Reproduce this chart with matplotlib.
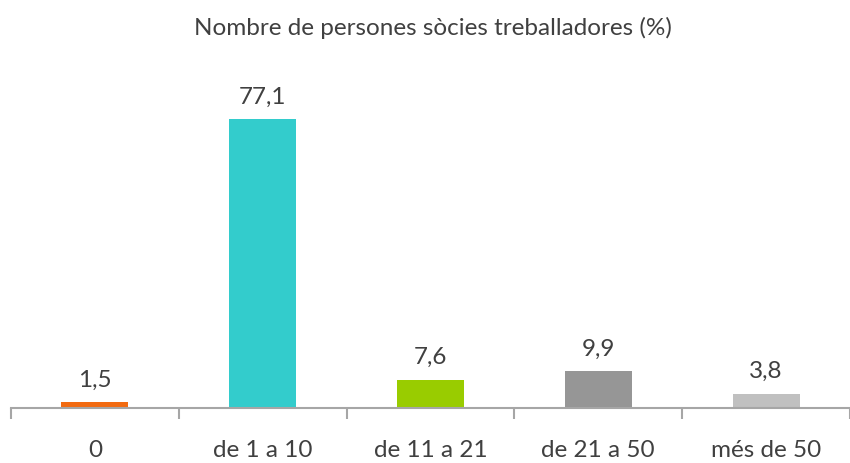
import matplotlib
matplotlib.use('Agg')
import matplotlib.pyplot as plt
import numpy as np

plt.rcParams['font.family'] = ['Lato', 'DejaVu Sans']

categories = ['0', 'de 1 a 10', 'de 11 a 21', 'de 21 a 50', 'més de 50']
values = [1.5, 77.1, 7.6, 9.9, 3.8]
labels = ['1,5', '77,1', '7,6', '9,9', '3,8']
colors = ['#F26A10', '#33CCCC', '#99CC00', '#969696', '#C0C0C0']

text_color = '#404040'
axis_color = '#A6A6A6'

fig = plt.figure(figsize=(8.5, 4.64), dpi=100)
ax = fig.add_axes([11 / 850, 55 / 464, 839 / 850, 337 / 464])

x = np.arange(len(categories))
bars = ax.bar(x, values, width=0.4, color=colors)

for xi, v, lab in zip(x, values, labels):
    ax.annotate(lab, (xi, v), xytext=(0, 9), textcoords='offset points',
                ha='center', va='bottom', fontsize=17.5, color=text_color)

ax.set_xlim(-0.5, len(categories) - 0.5)
ax.set_ylim(0, 90)

for s in ['top', 'right', 'left']:
    ax.spines[s].set_visible(False)
ax.spines['bottom'].set_color(axis_color)
ax.spines['bottom'].set_linewidth(1.5)
ax.set_yticks([])

# ticks between categories
ax.set_xticks(np.arange(-0.5, len(categories), 1.0))
ax.set_xticklabels([])
ax.tick_params(axis='x', which='major', length=8, width=1.5, color=axis_color)
ax.set_xticks(x, minor=True)
ax.set_xticklabels(categories, minor=True, fontsize=17.5, color=text_color)
ax.tick_params(axis='x', which='minor', length=0, pad=22)

fig.text(433 / 850, 1 - 28 / 464, 'Nombre de persones sòcies treballadores (%)',
         ha='center', va='center', fontsize=17.5, color=text_color)

fig.savefig('out.png', dpi=100)
